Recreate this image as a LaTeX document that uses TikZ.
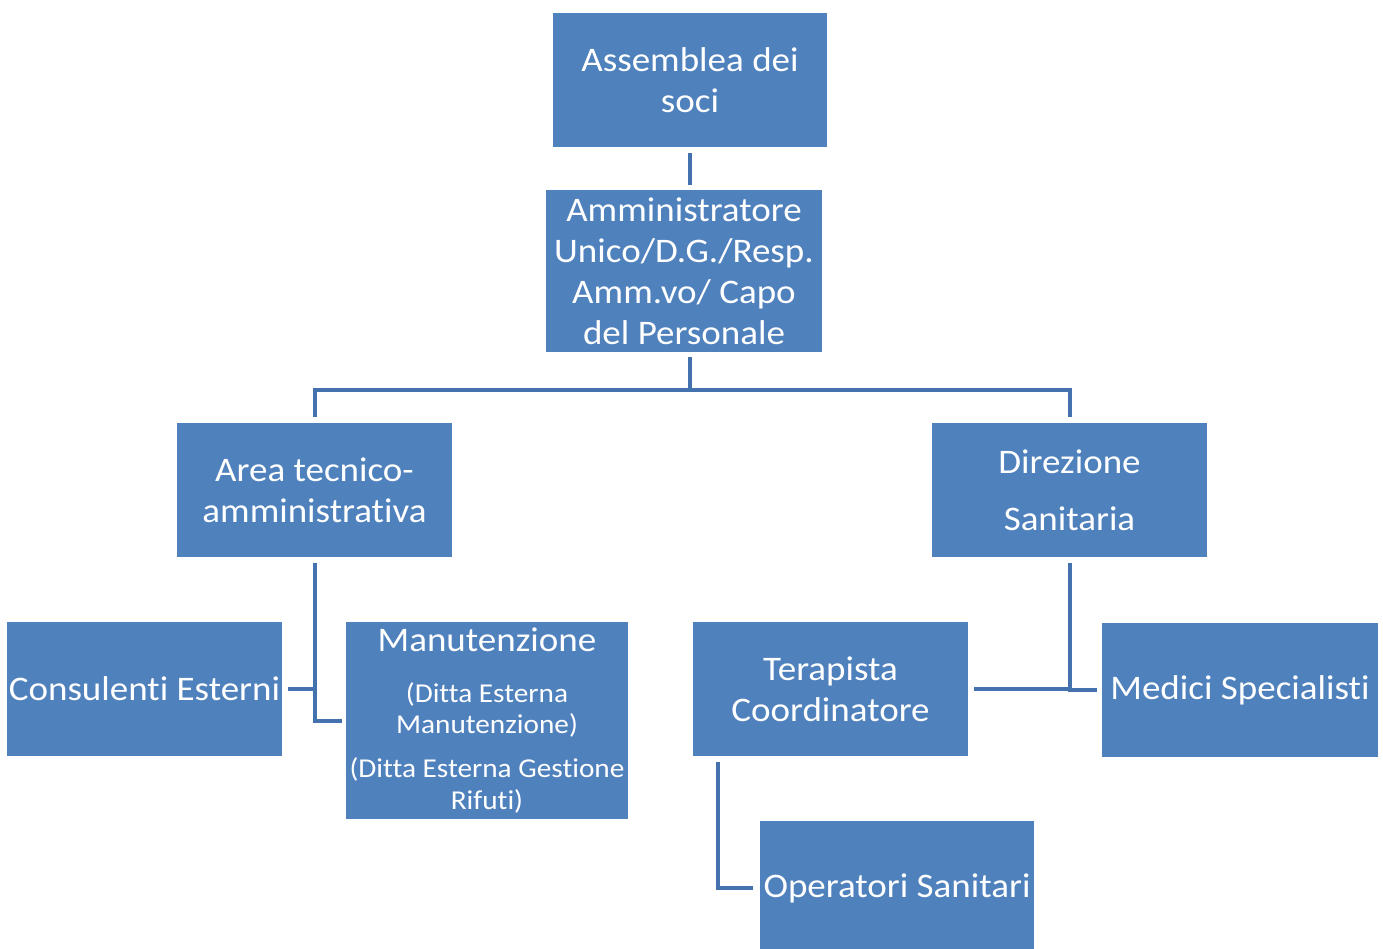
\documentclass[tikz,border=0pt]{standalone}
\usepackage{fontspec}
\setmainfont[FakeStretch=1.075,Ligatures=CommonOff]{Carlito}
\usepackage{xcolor}
\definecolor{boxblue}{HTML}{4F81BD}
\definecolor{lineblue}{HTML}{4472AE}
\begin{document}
\begin{tikzpicture}[x=0.02cm,y=-0.02cm]
%===DEF. STYLES====
\tikzset{box/.style ={fill=boxblue, draw=none, text=white, align=center, inner sep=0pt, minimum width=5.5cm, minimum height=2.68cm, font=\fontsize{19.6}{23.4}\selectfont},
conn/.style ={draw=lineblue, line width=0.08cm}}
\useasboundingbox (0,0) rectangle (1383,949);
%===boxes===
\node[box] (assemblea) at (690,80) {Assemblea dei\\soci};
\node[box, minimum width=5.52cm, minimum height=3.24cm] (amm) at (684,271) {Amministratore\\Unico/D.G./Resp.\\Amm.vo/ Capo\\del Personale};
\node[box] (area) at (314.5,490) {Area tecnico-\\amministrativa};
\node[box] (direz) at (1069.5,490) {Direzione\\[9pt]Sanitaria};
\node[box] (consul) at (144.5,689) {Consulenti Esterni};
\node[box, minimum width=5.64cm, minimum height=3.94cm, font=\fontsize{15.5}{18.2}\selectfont] (manut) at (487,720.5) {{\fontsize{19.6}{23.4}\selectfont Manutenzione}\\[10.8pt]
 (Ditta Esterna\\Manutenzione)\\[6.8pt]
 (Ditta Esterna Gestione\\Rifuti)};
\node[box] (terap) at (830.5,689) {Terapista\\Coordinatore};
\node[box, minimum width=5.52cm] (medici) at (1240,690) {Medici Specialisti};
\node[box] (operat) at (897,888) {Operatori Sanitari};
%===connectors===
\coordinate (bus) at (690,390);
\draw[conn, shorten <=0.12cm, shorten >=0.1cm] (assemblea.south) -- (assemblea.south |- amm.north);
\draw[conn, shorten <=0.1cm] (assemblea.south |- amm.south) -- (bus);
\draw[conn, shorten >=0.12cm] (bus) -| (area.north);
\draw[conn, shorten >=0.12cm] (bus) -| (direz.north);
\draw[conn, shorten <=0.12cm, shorten >=0.08cm] (area.south) |- (manut.west);
\draw[conn, shorten <=0.12cm] (consul.east) -- (consul.east -| area.south);
\draw[conn, shorten <=0.12cm, shorten >=0.1cm] (direz.south) |- (medici.west);
\draw[conn, shorten <=0.12cm] (terap.east) -- (terap.east -| direz.south);
\draw[conn, shorten <=0.12cm, shorten >=0.12cm] ([xshift=0.5cm]terap.south west) |- (operat.west);
\end{tikzpicture}
\end{document}
